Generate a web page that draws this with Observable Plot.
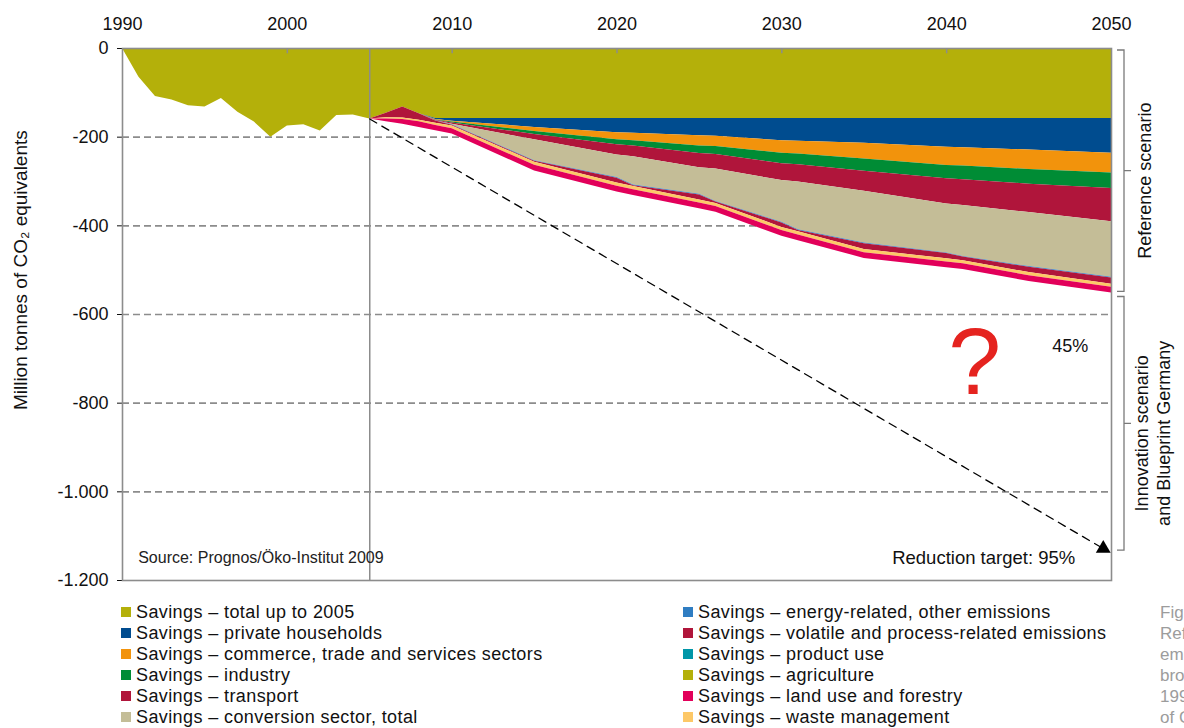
<!DOCTYPE html>
<html>
<head>
<meta charset="utf-8">
<script src="https://cdn.jsdelivr.net/npm/d3@7"></script>
<script src="https://cdn.jsdelivr.net/npm/@observablehq/plot@0.6"></script>
<style>
  html, body { margin: 0; padding: 0; background: #fff; overflow: hidden; width: 1184px; height: 728px; }
  #wrap { position: relative; width: 1184px; height: 728px; font-family: "Liberation Sans", Arial, sans-serif; color: #111; }
  #chart { position: absolute; left: 0; top: 0; }
  .legend { position: absolute; top: 602px; font-size: 18px; letter-spacing: 0.4px; }
  .legend .row { position: relative; height: 21px; line-height: 21px; white-space: nowrap; padding-left: 15px; }
  .legend .sw { position: absolute; left: 0; top: 5px; width: 10px; height: 10px; }
  #fig { position: absolute; left: 1160px; top: 602px; color: #9c9c9c; font-family: "Liberation Sans Narrow", "Liberation Sans", Arial, sans-serif; font-size: 17px; white-space: nowrap; }
  #fig div { height: 21px; line-height: 21px; }
</style>
</head>
<body>
<div id="wrap">
  <div id="chart"></div>
  <div class="legend" id="leg1" style="left:121px"></div>
  <div class="legend" id="leg2" style="left:683px"></div>
  <div id="fig"></div>
</div>
<script>
// ---------- data ----------
const years = [1990,1991,1992,1993,1994,1995,1996,1997,1998,1999,2000,2001,2002,2003,2004,2005,2006,2007,2008,2009,2010,
               2015,2020,2021,2025,2026,2030,2031,2035,2040,2041,2045,2050];

const totalUpTo2005   = [0,-65,-108,-116,-129,-132,-113,-144,-166,-200,-175,-172,-186,-151,-150,-159,-146,-132,-147,-158,-158,
                         -158,-158,-158,-158,-158,-158,-158,-158,-158,-158,-158,-158];
const privateHouseholds = [0,0,0,0,0,0,0,0,0,0,0,0,0,0,0,0,0,0,0,-2,-6,
                         -20,-32,-33,-39,-40,-50,-51,-56,-65,-66,-71,-78];
const commerceTrade   = [0,0,0,0,0,0,0,0,0,0,0,0,0,0,0,0,0,0,0,-1,-2,
                         -9,-16,-17,-23,-23,-28,-29,-35,-41,-41,-44,-45];
const industry        = [0,0,0,0,0,0,0,0,0,0,0,0,0,0,0,0,0,0,0,-1,-2,
                         -7,-11,-12,-17,-18,-24,-24,-28,-30,-31,-33,-35];
const transport       = [0,0,0,0,0,0,0,0,0,0,0,0,0,0,0,0,0,0,0,-1,-3,
                         -12,-23,-24,-32,-33,-38,-39,-45,-57,-58,-64,-75];
const conversionSector= [0,0,0,0,0,0,0,0,0,0,0,0,0,0,0,0,0,0,0,0,-1,
                         -47,-51,-64,-60,-73,-94,-108,-117,-110,-115,-122,-125];
const energyOther     = [0,0,0,0,0,0,0,0,0,0,0,0,0,0,0,0,0,0,0,-0.5,-1,
                         -1.5,-1.5,-1.5,-1.5,-1.5,-1.5,-1.5,-1.5,-1.5,-1.5,-1.5,-1.5];
const volatileProcess = [0,0,0,0,0,0,0,0,0,0,0,0,0,0,0,0,-10,-25,-15,-5,-2,
                         -2,-11,-2,-11,-3,-10,-3,-13,-12,-8,-12,-14];
const productUse      = [0,0,0,0,0,0,0,0,0,0,0,0,0,0,0,0,0,0,0,0,0,
                         0,0,0,0,0,0,0,0,0,0,0,0];
const agriculture     = [0,0,0,0,0,0,0,0,0,0,0,0,0,0,0,0,0,0,0,0,0,
                         0,0,0,0,0,0,0,0,0,0,0,0];
const wasteManagement = [0,0,0,0,0,0,0,0,0,0,0,0,0,0,0,0,-3,-3,-3,-5,-6,
                         -7,-7,-7,-7,-7,-7,-7,-7,-7,-7,-7,-7];
const landUseForestry = [0,0,0,0,0,0,0,0,0,0,0,0,0,0,0,0,-6,-11,-13,-12,-12,
                         -13,-13,-13,-13,-13,-13,-13,-13,-13,-13,-13,-13];

// stacking order (nearest to zero first)
const seriesNames = [
  "Savings – total up to 2005",
  "Savings – private households",
  "Savings – commerce, trade and services sectors",
  "Savings – industry",
  "Savings – transport",
  "Savings – conversion sector, total",
  "Savings – energy-related, other emissions",
  "Savings – volatile and process-related emissions",
  "Savings – product use",
  "Savings – agriculture",
  "Savings – waste management",
  "Savings – land use and forestry"
];
const seriesValues = [totalUpTo2005, privateHouseholds, commerceTrade, industry, transport, conversionSector,
                      energyOther, volatileProcess, productUse, agriculture, wasteManagement, landUseForestry];
const seriesColors = ["#b4b00a", "#004c8f", "#f2930c", "#008c35", "#b0153b", "#c4bd97",
                      "#2f7dc2", "#b0153b", "#0096a8", "#b4b00a", "#fdc867", "#e2005a"];

// legend order as printed
const legendLeft  = ["Savings – total up to 2005", "Savings – private households", "Savings – commerce, trade and services sectors",
                     "Savings – industry", "Savings – transport", "Savings – conversion sector, total"];
const legendRight = ["Savings – energy-related, other emissions", "Savings – volatile and process-related emissions",
                     "Savings – product use", "Savings – agriculture", "Savings – land use and forestry", "Savings – waste management"];

const decadeTicks = [1990, 2000, 2010, 2020, 2030, 2040, 2050];
const valueTicks  = [0, -200, -400, -600, -800, -1000, -1200];
const gridValues  = [-200, -400, -600, -800, -1000];

const targetPath  = [{year: 2005, value: -159}, {year: 2049.5, value: -1128}];
const brackets = [
  {lines: ["Reference scenario"], top: 0, bottom: -551},
  {lines: ["Innovation scenario", "and Blueprint Germany"], top: -556, bottom: -1135}
];
const yLabel = "Million tonnes of CO₂ equivalents";
const figCaption = ["Fig. K 2", "Reference scenario: savings of greenhouse gas", "emissions by sector,", "broken down by source,", "1990 – 2050, in million tonnes", "of CO₂ equivalents"];

// ---------- build ----------
// Plot stacks a value of exactly 0 on the positive side (at the zero line);
// an infinitesimal negative keeps empty series on the negative stack instead.
const rows = [];
seriesNames.forEach((name, i) => years.forEach((yr, j) => {
  const v = seriesValues[i][j];
  rows.push({series: name, year: yr, value: v === 0 ? -1e-9 : v});
}));

const fmt = d => d === 0 ? "0" : (d < 0 ? "-" : "") + String(Math.abs(d)).replace(/\B(?=(\d{3})+(?!\d))/g, ".");
const gray = "#8c8c8c";

const plot = Plot.plot({
  width: 1184,
  height: 590,
  marginLeft: 122,
  marginRight: 73,
  marginTop: 48,
  marginBottom: 10,
  style: {fontFamily: "'Liberation Sans', Arial, sans-serif", fontSize: "18px", background: "#fff", color: "#111"},
  x: {domain: [1990, 2050], axis: "top", ticks: decadeTicks, tickFormat: d => String(d), tickSize: 0, tickPadding: 19, label: null},
  y: {domain: [-1200, 0], ticks: valueTicks, tickFormat: fmt, tickSize: 5, tickPadding: 9, label: null},
  color: {domain: seriesNames, range: seriesColors},
  marks: [
    Plot.ruleY(gridValues, {stroke: gray, strokeWidth: 1.6, strokeDasharray: "7,4"}),
    Plot.areaY(rows, {x: "year", y: "value", z: "series", fill: "series", order: seriesNames}),
    Plot.ruleX([2005], {stroke: gray, strokeWidth: 1.5}),
    Plot.ruleX(decadeTicks.slice(1, -1), {y1: 0, y2: -12, stroke: gray, strokeWidth: 1.5}),
    Plot.frame({stroke: gray, strokeWidth: 1.6}),
    Plot.line(targetPath, {x: "year", y: "value", stroke: "#000", strokeWidth: 1.3, strokeDasharray: "8,6"}),
    Plot.dot(targetPath.slice(1), {x: "year", y: "value", symbol: "triangle", r: 5.5, fill: "#000", rotate: 120}),
    Plot.text([yLabel], {x: 1990, y: -500, dx: -102, rotate: -90, fontSize: 19, fill: "#111"}),
    Plot.text(["?"], {x: 2041.7, y: -711, fontSize: 95, fill: "#e5231f"}),
    Plot.text(["45%"], {x: 2047.5, y: -672, fontSize: 18, fill: "#111"}),
    Plot.text(["Reduction target: 95%"], {x: 2047.8, y: -1150, textAnchor: "end", fontSize: 18.5, fill: "#111"}),
    Plot.text(["Source: Prognos/Öko-Institut 2009"], {x: 1990.95, y: -1150, textAnchor: "start", fontSize: 16, fill: "#222"})
  ]
});
document.getElementById("chart").appendChild(plot);

// right-hand brackets built from the plot's own scales
const xs = plot.scale("x"), ys = plot.scale("y");
const xScale = d3.scaleLinear(xs.domain, xs.range);
const yScale = d3.scaleLinear(ys.domain, ys.range);
const svg = d3.select(plot);
const bx = xScale(2050) + 13;
brackets.forEach(b => {
  const yt = yScale(b.top) + 2, yb = yScale(b.bottom) - 1, ym = (yt + yb) / 2;
  svg.append("path")
    .attr("d", `M${bx - 7},${yt}H${bx}V${yb}H${bx - 7}M${bx},${ym}H${bx + 7}`)
    .attr("fill", "none").attr("stroke", "#7a7a7a").attr("stroke-width", 1.3);
  const t = svg.append("text")
    .attr("transform", `translate(${bx + 21 - (b.lines.length - 1) * 3},${ym + 10}) rotate(-90)`)
    .attr("text-anchor", "middle")
    .attr("font-size", 18).attr("fill", "#111");
  b.lines.forEach((l, i) => t.append("tspan").attr("x", 0).attr("dy", i === 0 ? "0.35em" : "1.2em").text(l));
});

// legend
const colorOf = name => seriesColors[seriesNames.indexOf(name)];
function buildLegend(id, names) {
  const el = document.getElementById(id);
  names.forEach(n => {
    const r = document.createElement("div");
    r.className = "row";
    r.innerHTML = `<span class="sw" style="background:${colorOf(n)}"></span>${n}`;
    el.appendChild(r);
  });
}
buildLegend("leg1", legendLeft);
buildLegend("leg2", legendRight);
const fig = document.getElementById("fig");
figCaption.forEach(l => { const d = document.createElement("div"); d.textContent = l; fig.appendChild(d); });
</script>
</body>
</html>
